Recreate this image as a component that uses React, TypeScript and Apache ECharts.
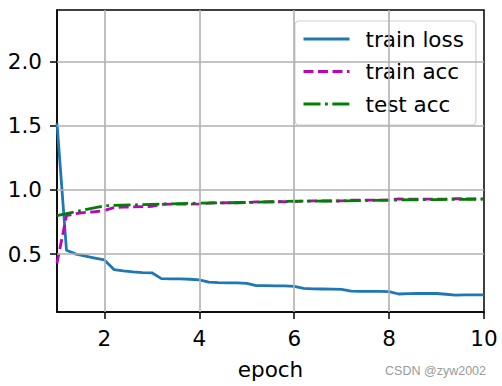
import React, { useEffect, useRef } from "react";
import * as echarts from "echarts";

const epochs = [1.0, 1.2, 1.4, 1.6, 1.8, 2.0, 2.2, 2.4, 2.6, 2.8, 3.0, 3.2, 3.4, 3.6, 3.8, 4.0, 4.2, 4.4, 4.6, 4.8, 5.0, 5.2, 5.4, 5.6, 5.8, 6.0, 6.2, 6.4, 6.6, 6.8, 7.0, 7.2, 7.4, 7.6, 7.8, 8.0, 8.2, 8.4, 8.6, 8.8, 9.0, 9.2, 9.4, 9.6, 9.8, 10.0];
const trainLoss = [1.52, 0.53, 0.5, 0.485, 0.47, 0.455, 0.38, 0.37, 0.362, 0.357, 0.355, 0.31, 0.308, 0.307, 0.305, 0.3, 0.283, 0.278, 0.277, 0.276, 0.272, 0.255, 0.255, 0.254, 0.253, 0.25, 0.234, 0.23, 0.229, 0.228, 0.226, 0.212, 0.211, 0.211, 0.21, 0.208, 0.19, 0.193, 0.194, 0.195, 0.194, 0.188, 0.182, 0.184, 0.184, 0.184];
const trainAcc = [0.43, 0.8, 0.815, 0.825, 0.83, 0.84, 0.862, 0.866, 0.868, 0.87, 0.872, 0.888, 0.889, 0.889, 0.89, 0.891, 0.898, 0.899, 0.9, 0.9, 0.901, 0.907, 0.907, 0.908, 0.908, 0.909, 0.913, 0.914, 0.914, 0.915, 0.915, 0.92, 0.92, 0.92, 0.921, 0.921, 0.93, 0.928, 0.928, 0.928, 0.928, 0.929, 0.932, 0.931, 0.931, 0.931];
const testEpochs = [1, 2, 3, 4, 5, 6, 7, 8, 9, 10];
const testAcc = [0.8, 0.877, 0.888, 0.897, 0.902, 0.912, 0.914, 0.921, 0.925, 0.928];
const xTicks = [2, 4, 6, 8, 10];
const yTicks = [0.5, 1.0, 1.5, 2.0];

const FONT = "DejaVu Sans";
const FS = 21.5;

export default function App() {
  const ref = useRef<HTMLDivElement>(null);
  useEffect(() => {
    document.body.style.margin = "0";
    if (!ref.current) return;
    const chart = echarts.init(ref.current, null, { renderer: "svg" });
    const lw = 2.8;
    chart.setOption({
      animation: false,
      textStyle: { fontFamily: FONT },
      grid: {
        left: 57,
        right: 18,
        top: 10,
        bottom: 74,
        show: true,
        borderColor: "#000",
        borderWidth: 1.5,
        backgroundColor: "#fff",
      },
      xAxis: {
        type: "value",
        min: 1,
        max: 10,
        name: "epoch",
        nameLocation: "middle",
        nameGap: 46,
        nameTextStyle: { fontSize: FS, color: "#000", fontFamily: FONT },
        axisLine: { show: true, lineStyle: { color: "#000", width: 1.5 } },
        axisTick: { show: true, length: 7, lineStyle: { color: "#000", width: 1.5 }, customValues: xTicks },
        axisLabel: { fontSize: FS, color: "#000", margin: 15, customValues: xTicks, fontFamily: FONT },
        splitLine: { show: false },
      },
      yAxis: {
        type: "value",
        min: 0.05,
        max: 2.4,
        axisLine: { show: true, lineStyle: { color: "#000", width: 1.5 } },
        axisTick: { show: true, length: 7, lineStyle: { color: "#000", width: 1.5 }, customValues: yTicks },
        axisLabel: {
          fontSize: FS,
          color: "#000",
          margin: 15,
          customValues: yTicks,
          fontFamily: FONT,
          padding: [3, 0, 0, 0],
          formatter: (v: number) => v.toFixed(1),
        },
        splitLine: { show: false },
      },
      legend: {
        orient: "vertical",
        left: 295,
        top: 21,
        padding: [7, 12, 10, 7],
        itemWidth: 46,
        itemHeight: 21,
        itemGap: 10.5,
        backgroundColor: "rgba(255,255,255,0.8)",
        borderColor: "#d0d0d0",
        borderWidth: 1.2,
        borderRadius: 4,
        itemStyle: { opacity: 0 },
        lineStyle: { width: 3 },
        textStyle: { fontSize: FS, color: "#000", fontFamily: FONT, padding: [0, 0, 0, 11] },
        data: ["train loss", "train acc", "test acc"],
      },
      series: [
        {
          name: "grid",
          type: "line",
          data: [],
          silent: true,
          markLine: {
            silent: true,
            symbol: "none",
            label: { show: false },
            lineStyle: { color: "#b0b0b0", width: 1.6, type: "solid" },
            data: [
              ...xTicks.filter((v) => v < 10).map((v) => ({ xAxis: v })),
              ...yTicks.map((v) => ({ yAxis: v })),
            ],
          },
        },
        {
          name: "train loss",
          type: "line",
          data: epochs.map((x, i) => [x, trainLoss[i]]),
          showSymbol: false,
          symbol: "none",
          lineStyle: { color: "#1f77b4", width: lw },
          itemStyle: { color: "#1f77b4" },
        },
        {
          name: "train acc",
          type: "line",
          data: epochs.map((x, i) => [x, trainAcc[i]]),
          showSymbol: false,
          symbol: "none",
          lineStyle: { color: "#bf00bf", width: lw, type: [10, 4.5] },
          itemStyle: { color: "#bf00bf" },
        },
        {
          name: "test acc",
          type: "line",
          data: testEpochs.map((x, i) => [x, testAcc[i]]),
          showSymbol: false,
          symbol: "none",
          lineStyle: { color: "#008000", width: lw, type: [17, 4.5, 2.8, 4.5] },
          itemStyle: { color: "#008000" },
        },
      ],
      graphic: [
        {
          type: "text",
          right: 16,
          bottom: 9,
          style: { text: "CSDN @zyw2002", fontSize: 12.5, fill: "#9a9a9a", fontFamily: "Liberation Sans" },
        },
      ],
    });
    return () => chart.dispose();
  }, []);
  return <div ref={ref} style={{ width: 502, height: 386 }} />;
}
